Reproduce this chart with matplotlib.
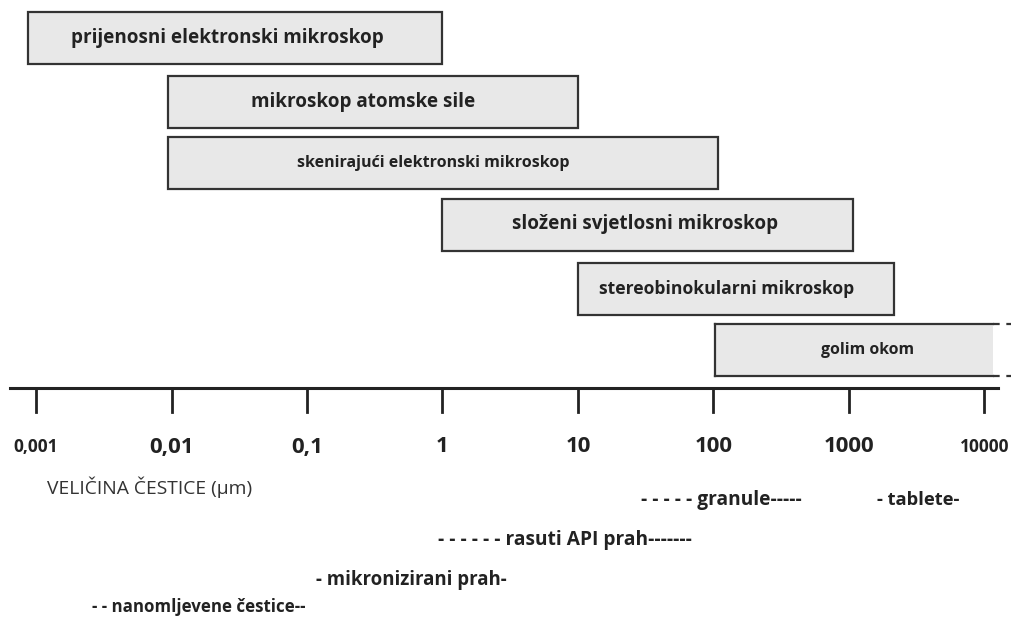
import numpy as np
import matplotlib
matplotlib.use("Agg")
import matplotlib.pyplot as plt

plt.rcParams['font.family'] = ['Open Sans', 'DejaVu Sans']

# mikroskopi: naziv, od (µm), do (µm)
metode = ['prijenosni elektronski mikroskop', 'mikroskop atomske sile',
          'skenirajući elektronski mikroskop', 'složeni svjetlosni mikroskop',
          'stereobinokularni mikroskop', 'golim okom']
od_um = [0.00087, 0.0095, 0.0095, 1.0, 10.0, 102.0]
do_um = [1.0, 10.0, 108.0, 1070.0, 2150.0, 11600.0]
velicina_fonta = [13.6, 13.6, 11.5, 13.6, 12.6, 11.4]
sredina_teksta = [0.0257, 0.261, 0.858, 31.0, 125.0, 1370.0]

# oznake osi
tick_vrijednosti = [0.001, 0.01, 0.1, 1, 10, 100, 1000, 10000]
tick_oznake = ['0,001', '0,01', '0,1', '1', '10', '100', '1000', '10000']

# oblici čestica (tekst, početak u µm)
oblici = ['- - - - - granule-----', '- tablete-', '- - - - - - rasuti API prah-------',
          '- mikronizirani prah-', '- - nanomljevene čestice--']
oblici_od = [29.0, 1620.0, 0.93, 0.117, 0.0026]
oblici_y = [500, 500, 540, 580, 607]
oblici_font = [13.8, 13.2, 13.8, 13.4, 12.2]

fig = plt.figure(figsize=(10.12, 6.23), dpi=100)
ax = fig.add_axes([0, 0, 1, 1])
ax.set_xscale('log')
xmin, xmax = 10 ** -3.2657, 10 ** 4.203
ax.set_xlim(xmin, xmax)
ax.set_ylim(623, 0)
ax.axis('off')

rub = '#333333'
bar_y = [38, 101.5, 163, 224.5, 288.5, 350]
for i, (naziv, a, b) in enumerate(zip(metode, od_um, do_um)):
    zadnji = i == len(metode) - 1
    ax.barh(bar_y[i], b - a, left=a, height=52, color='#e8e8e8',
            edgecolor='none' if zadnji else rub, linewidth=1.6)
    if zadnji:
        y0, y1 = bar_y[i] - 26, bar_y[i] + 26
        ax.plot([a, a], [y0, y1], color=rub, lw=1.6)
        ax.plot([a, b], [y0, y0], color=rub, lw=1.6)
        ax.plot([a, b], [y1, y1], color=rub, lw=1.6)
        ax.plot([b, xmax], [y0, y0], color=rub, lw=1.6, ls=(0, (3, 3)))
        ax.plot([b, xmax], [y1, y1], color=rub, lw=1.6, ls=(0, (3, 3)))
    ax.text(sredina_teksta[i], bar_y[i], naziv, ha='center', va='center',
            fontsize=velicina_fonta[i], fontweight='bold', color='#222222')

# os veličine
ax.plot([10 ** -3.192, 10 ** 4.103], [388, 388], color='#222222', lw=2.2)
for v, t in zip(tick_vrijednosti, tick_oznake):
    ax.plot([v, v], [388, 412], color='#222222', lw=2)
    mali = t in ('0,001', '10000')
    ax.text(v, 447, t, ha='center', va='center', fontsize=12.5 if mali else 16,
            fontweight='bold', color='#222222')

ax.text(10 ** -2.92, 487, 'VELIČINA ČESTICE (µm)', ha='left', va='center',
        fontsize=13.9, color='#333333')

for t, x, y, f in zip(oblici, oblici_od, oblici_y, oblici_font):
    ax.text(x, y, t, ha='left', va='center', fontsize=f,
            fontweight='bold', color='#222222')

fig.savefig('out.png', dpi=100)
